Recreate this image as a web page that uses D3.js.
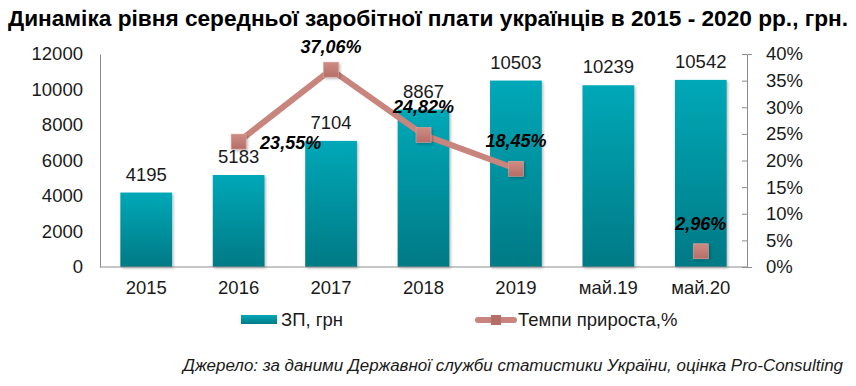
<!DOCTYPE html>
<html>
<head>
<meta charset="utf-8">
<script src="https://cdn.jsdelivr.net/npm/d3@7"></script>
<style>
  body { margin: 0; background: #fff; }
  svg { display: block; font-family: "Liberation Sans", Arial, sans-serif; }
</style>
</head>
<body>
<div id="chart"></div>
<script>
// Data
const categories = ["2015", "2016", "2017", "2018", "2019", "май.19", "май.20"];
const salary = [4195, 5183, 7104, 8867, 10503, 10239, 10542];
const growth = [null, 23.55, 37.06, 24.82, 18.45, null, 2.96];
const growthLabels = ["", "23,55%", "37,06%", "24,82%", "18,45%", "", "2,96%"];
const leftTicks = [0, 2000, 4000, 6000, 8000, 10000, 12000];
const rightTicks = [0, 5, 10, 15, 20, 25, 30, 35, 40];

const W = 856, H = 386;
const plot = { left: 100, right: 747, top: 54, bottom: 267 };
const fs = "18.5px";

const svg = d3.select("#chart").append("svg")
  .attr("width", W).attr("height", H);

const defs = svg.append("defs");
const grad = defs.append("linearGradient")
  .attr("id", "barGrad").attr("x1", 0).attr("y1", 0).attr("x2", 0).attr("y2", 1);
grad.append("stop").attr("offset", "0%").attr("stop-color", "#00a8b8");
grad.append("stop").attr("offset", "100%").attr("stop-color", "#007a85");

const shadow = defs.append("filter").attr("id", "shadow")
  .attr("x", "-20%").attr("y", "-20%").attr("width", "150%").attr("height", "150%");
shadow.append("feDropShadow").attr("dx", 1.5).attr("dy", 1.5)
  .attr("stdDeviation", 1.2).attr("flood-color", "#000").attr("flood-opacity", 0.25);

// Title (condensed to the width of the original)
svg.append("text")
  .attr("x", 8).attr("y", 26)
  .attr("textLength", 840).attr("lengthAdjust", "spacingAndGlyphs")
  .style("font-weight", "bold")
  .style("font-size", "22px")
  .attr("fill", "#000")
  .text("Динаміка рівня середньої заробітної плати українців в 2015 - 2020 рр., грн.");

// Scales
const x = d3.scaleBand()
  .domain(categories)
  .range([plot.left, plot.right])
  .paddingInner(0.44).paddingOuter(0.22);

const yL = d3.scaleLinear().domain([0, 12000]).range([plot.bottom, plot.top]);
const yR = d3.scaleLinear().domain([0, 40]).range([plot.bottom, plot.top]);

// Bars
svg.append("g").selectAll("rect")
  .data(salary)
  .join("rect")
    .attr("x", (d, i) => x(categories[i]))
    .attr("y", d => yL(d))
    .attr("width", x.bandwidth())
    .attr("height", d => yL(0) - yL(d))
    .attr("fill", "url(#barGrad)")
    .attr("filter", "url(#shadow)");

// Bar value labels
svg.append("g").selectAll("text")
  .data(salary)
  .join("text")
    .attr("x", (d, i) => x(categories[i]) + x.bandwidth() / 2)
    .attr("y", d => yL(d) - 12)
    .attr("text-anchor", "middle")
    .style("font-size", fs)
    .attr("fill", "#1a1a1a")
    .text(d => d);

// Axes
const axisColor = "#8c8c8c";
const styleText = g => g.selectAll("text")
  .style("font-size", fs).attr("fill", "#1a1a1a")
  .style("font-family", "'Liberation Sans', Arial, sans-serif");

const gL = svg.append("g")
  .attr("transform", `translate(${plot.left},0)`)
  .call(d3.axisLeft(yL).tickValues(leftTicks).tickFormat(d3.format("d"))
    .tickSize(0).tickPadding(17));
gL.select(".domain").attr("stroke", axisColor);
styleText(gL);

const gR = svg.append("g")
  .attr("transform", `translate(${plot.right},0)`)
  .call(d3.axisRight(yR).tickValues(rightTicks).tickFormat(d => d + "%")
    .tickSizeInner(5).tickSizeOuter(5).tickPadding(14));
gR.select(".domain").attr("stroke", axisColor);
gR.selectAll(".tick line").attr("stroke", axisColor).attr("x1", -5).attr("x2", 0);
styleText(gR);

const gX = svg.append("g")
  .attr("transform", `translate(0,${plot.bottom})`)
  .call(d3.axisBottom(x).tickSize(0).tickPadding(14));
gX.select(".domain").attr("stroke", axisColor).attr("d", `M${plot.left},0H${plot.right}`);
styleText(gX);

// Growth line
const lineColor = "#c8857d";
const cx = i => x(categories[i]) + x.bandwidth() / 2;
const pts = growth.map((g, i) => ({ g, i })).filter(p => p.g !== null);

const line = d3.line()
  .defined(p => p.g !== null && p.i <= 4)
  .x(p => cx(p.i))
  .y(p => yR(p.g));

svg.append("path")
  .datum(growth.map((g, i) => ({ g, i })))
  .attr("fill", "none")
  .attr("stroke", lineColor)
  .attr("stroke-width", 6)
  .attr("stroke-linejoin", "round")
  .attr("d", line);

const mGrad = defs.append("linearGradient")
  .attr("id", "markGrad").attr("x1", 0).attr("y1", 0).attr("x2", 0).attr("y2", 1);
mGrad.append("stop").attr("offset", "0%").attr("stop-color", "#cf8c84");
mGrad.append("stop").attr("offset", "100%").attr("stop-color", "#b56e67");

const ms = 15;
svg.append("g").selectAll("rect")
  .data(pts)
  .join("rect")
    .attr("x", p => cx(p.i) - ms / 2)
    .attr("y", p => yR(p.g) - ms / 2)
    .attr("width", ms).attr("height", ms)
    .attr("fill", "url(#markGrad)")
    .attr("stroke", "#d9a39c").attr("stroke-width", 0.6)
    .attr("filter", "url(#shadow)");

// Growth labels
const labelOffset = { 1: [52, 7], 2: [0, -17], 3: [0, -22], 4: [0, -22], 6: [0, -21] };
svg.append("g").selectAll("text")
  .data(pts)
  .join("text")
    .attr("x", p => cx(p.i) + labelOffset[p.i][0])
    .attr("y", p => yR(p.g) + labelOffset[p.i][1])
    .attr("text-anchor", "middle")
    .style("font-size", "18px")
    .style("font-weight", "bold")
    .style("font-style", "italic")
    .attr("fill", "#000")
    .text(p => growthLabels[p.i]);

// Legend
const leg = svg.append("g").attr("transform", "translate(0,320)");
leg.append("rect")
  .attr("x", 241).attr("y", -5).attr("width", 36).attr("height", 9)
  .attr("fill", "url(#barGrad)");
leg.append("text")
  .attr("x", 281).attr("y", 6)
  .style("font-size", fs).attr("fill", "#1a1a1a")
  .text("ЗП, грн");
leg.append("line")
  .attr("x1", 478).attr("x2", 514).attr("y1", 0).attr("y2", 0)
  .attr("stroke", lineColor).attr("stroke-width", 6).attr("stroke-linecap", "round");
leg.append("rect")
  .attr("x", 491).attr("y", -5).attr("width", 10).attr("height", 10)
  .attr("fill", "#b56e67");
leg.append("text")
  .attr("x", 518).attr("y", 6)
  .style("font-size", fs).attr("fill", "#1a1a1a")
  .text("Темпи прироста,%");

// Source
svg.append("text")
  .attr("x", 183).attr("y", 371)
  .attr("textLength", 660).attr("lengthAdjust", "spacingAndGlyphs")
  .style("font-style", "italic")
  .style("font-size", "16px")
  .attr("fill", "#1a1a1a")
  .text("Джерело: за даними Державної служби статистики України, оцінка Pro-Consulting");
</script>
</body>
</html>
